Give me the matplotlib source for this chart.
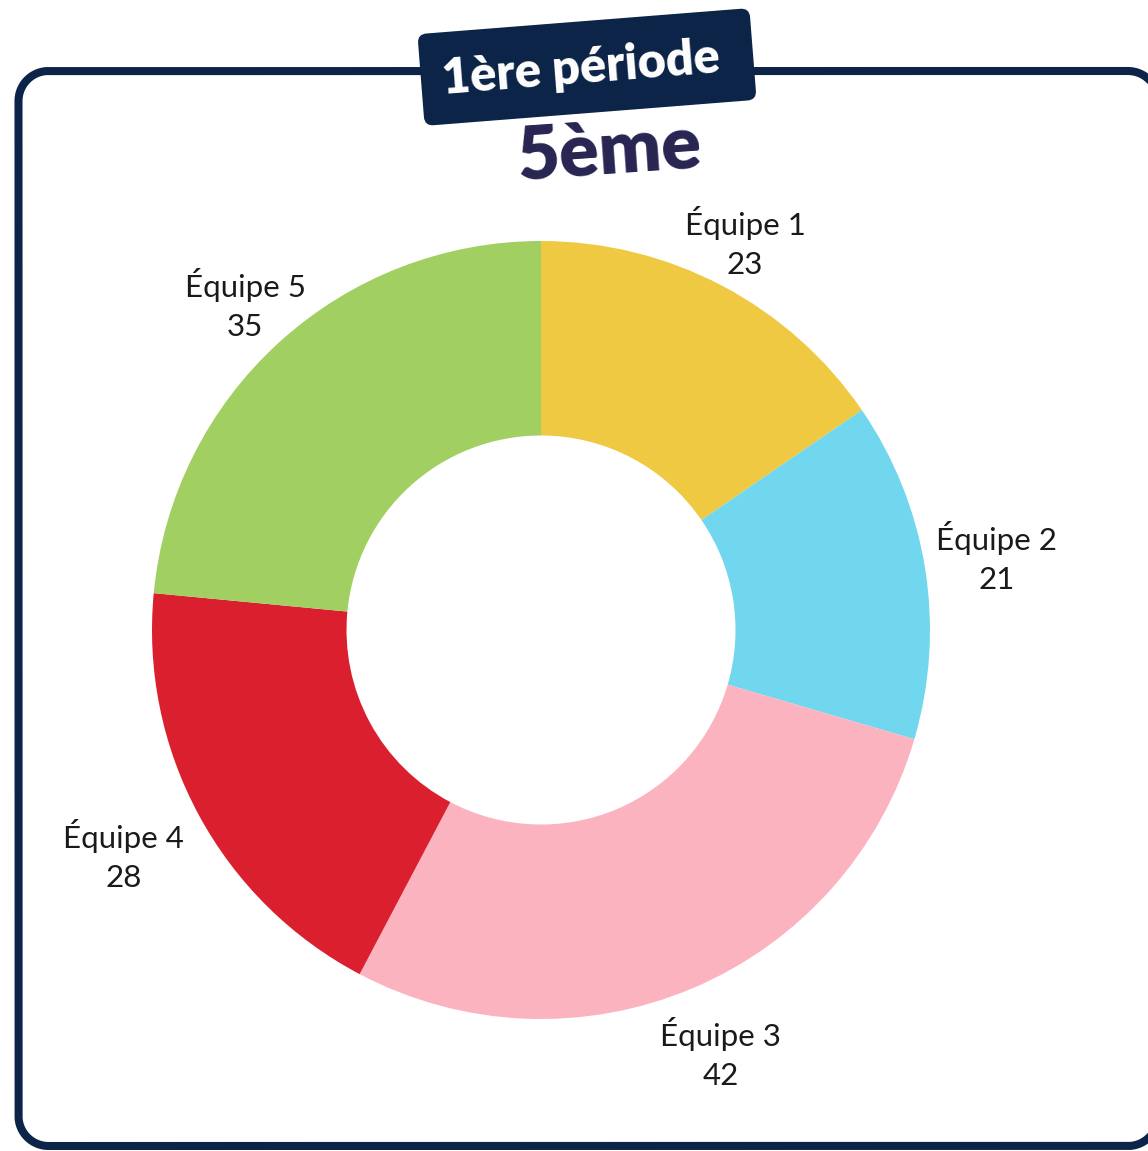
import numpy as np
import matplotlib
matplotlib.use("Agg")
import matplotlib.pyplot as plt
from matplotlib.patches import FancyBboxPatch
from matplotlib.transforms import Affine2D

# ---- data ----
teams = ["Équipe 1", "Équipe 2", "Équipe 3", "Équipe 4", "Équipe 5"]
scores = [23, 21, 42, 28, 35]
colors = ["#EFC942", "#70D7EE", "#FCB3C0", "#DA1F2E", "#A1CF62"]
badge_text = "1ère période"
title_text = "5ème"

# ---- style / layout ----
W, H = 1148, 1151
label_dist = [1.126, 1.185, 1.183, 1.22, 1.13]
navy = "#0B2447"

fig = plt.figure(figsize=(W / 100, H / 100), dpi=100)
ax = fig.add_axes([0, 0, 1, 1])
cx, cy, R = 541, H - 630, 389

wedges, _ = ax.pie(scores, colors=colors, startangle=90, counterclock=False,
                   center=(cx, cy), radius=R,
                   wedgeprops=dict(width=R * 0.5, linewidth=0))

for w, t, v, d in zip(wedges, teams, scores, label_dist):
    ang = np.deg2rad((w.theta1 + w.theta2) / 2)
    x = cx + R * d * np.cos(ang)
    y = cy + R * d * np.sin(ang)
    ax.text(x, y, f"{t}\n{v}", ha="center", va="center", fontsize=22.5,
            family="Lato", color="#1a1a1a", linespacing=1.48)


def rounded_rect(x0, y0, x1, y1, r, n=40):
    pts = []
    corners = [((x1 - r, y1 - r), 0, 90), ((x0 + r, y1 - r), 90, 180),
               ((x0 + r, y0 + r), 180, 270), ((x1 - r, y0 + r), 270, 360)]
    for (ccx, ccy), a0, a1 in corners:
        a = np.deg2rad(np.linspace(a0, a1, n))
        pts.append(np.column_stack([ccx + r * np.cos(a), ccy + r * np.sin(a)]))
    pts = np.vstack(pts + [pts[0][:1]])
    return pts[:, 0], pts[:, 1]


# frame (right edge runs just past the figure border)
fx, fy = rounded_rect(18.5, H - 1146, 1158, H - 71, 30)
ax.plot(fx, fy, color=navy, lw=5.8, solid_joinstyle="round", zorder=0,
        clip_on=False)

# badge
bx, by, bw, bh = 587, H - 67, 333, 92
rot = Affine2D().rotate_deg_around(bx, by, 4.5) + ax.transData
badge = FancyBboxPatch((bx - bw / 2, by - bh / 2), bw, bh,
                       boxstyle="round,pad=0,rounding_size=9",
                       facecolor=navy, edgecolor="none", zorder=3,
                       transform=rot)
ax.add_patch(badge)
ax.text(bx - 6, by - 2, badge_text, ha="center", va="center", rotation=4.5,
        rotation_mode="anchor", fontsize=35, fontweight="heavy",
        family="Lato", color="white", zorder=4)

ax.text(609, H - 152, title_text, ha="center", va="center", rotation=4,
        rotation_mode="anchor", fontsize=53, fontweight="heavy",
        family="Lato", color="#272451", zorder=4)

ax.set_xlim(0, W)
ax.set_ylim(0, H)
ax.set_aspect("equal")
ax.axis("off")
fig.savefig("out.png", dpi=100)
